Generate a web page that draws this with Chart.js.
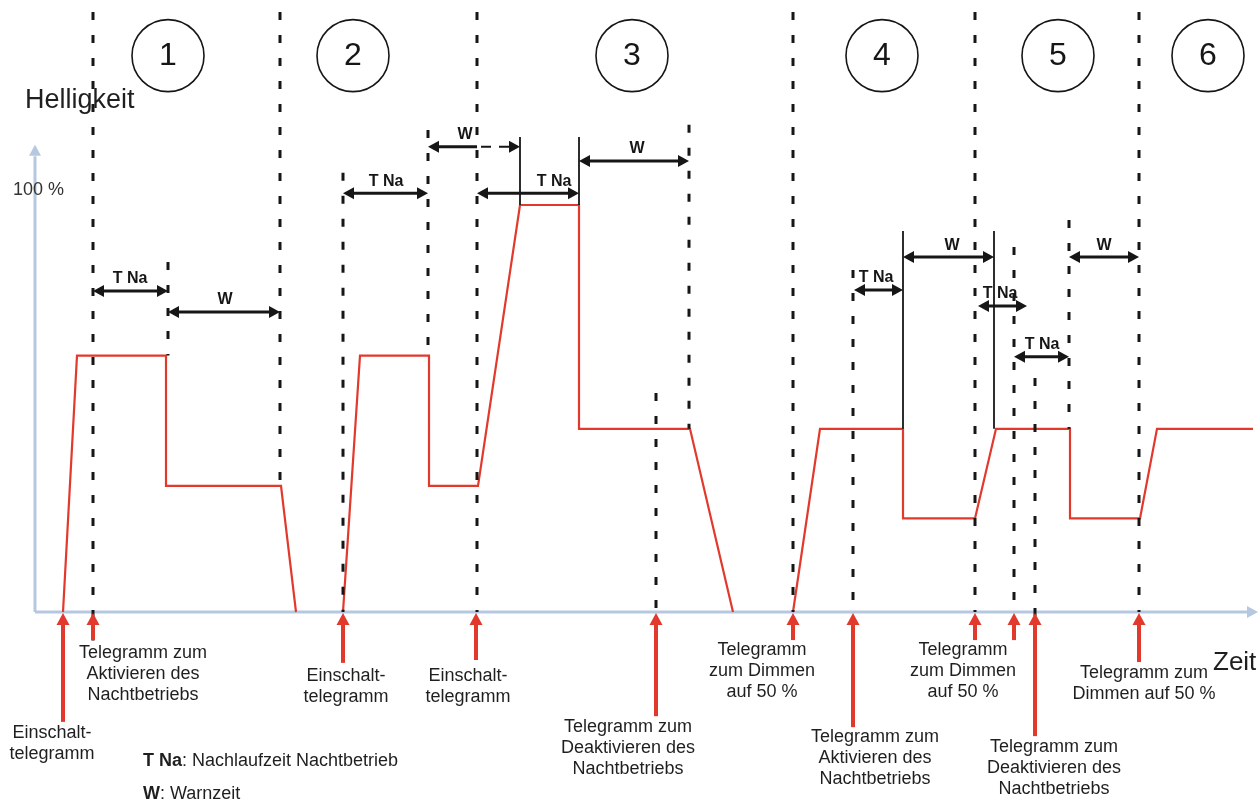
<!DOCTYPE html>
<html>
<head>
<meta charset="utf-8">
<title>Helligkeit / Nachtbetrieb</title>
<script src="https://cdn.jsdelivr.net/npm/chart.js@4"></script>
<style>
  html, body { margin: 0; padding: 0; background: #fff; }
  canvas { display: block; }
</style>
</head>
<body>
<canvas id="lightChart" width="1259" height="803"></canvas>
<script>
// Helligkeitsverlauf (Zeit, Helligkeit in %), null = Lücke
const curveTime  = [2.8, 4.2, 13.1, 13.1, 24.6, 26.1, 28.0, 30.8, 32.5, 39.4, 39.4, 44.3, 48.5, 54.4, 54.4, 65.5, 69.8, 72.0,
                    75.8, 78.5, 86.8, 86.8, 94.0, 96.1, 103.5, 103.5, 110.5, 112.2, 121.8];
const curveLevel = [0, 63, 63, 31, 31, 0, null, 0, 63, 63, 31, 31, 100, 100, 45, 45, 0, null,
                    0, 45, 45, 23, 23, 45, 45, 23, 23, 45, 45];

// gestrichelte Markierungen: Zeit, von, bis (%)
const markerTime = [5.8, 13.3, 24.5, 30.8, 39.3, 44.2, 62.1, 65.4, 75.8, 81.8, 94.0, 97.9, 100.0, 103.4, 110.4];
const markerFrom = [-7, 63, 31, 0, 63, 0, 0, 45, 0, 0, 0, 0, -7, 45, 0];
const markerTo   = [147.4, 86, 147.4, 107.9, 118.4, 147.4, 53.8, 119.7, 147.4, 84, 147.4, 89.7, 57.5, 96.3, 147.4];

// durchgezogene Markierungen
const stopTime = [48.5, 54.4, 86.8, 95.9];
const stopFrom = [100, 100, 45, 45];
const stopTo   = [116.7, 116.7, 93.6, 93.6];

// Zeitspannen (Doppelpfeile)
const spanName     = ["T Na", "W", "T Na", "W", "T Na", "W", "T Na", "W", "T Na", "T Na", "W"];
const spanStart    = [5.8, 13.3, 30.8, 39.3, 44.2, 54.4, 81.9, 86.8, 94.3, 97.9, 103.4];
const spanEnd      = [13.3, 24.5, 39.3, 48.5, 54.4, 65.4, 86.8, 95.9, 99.2, 103.4, 110.4];
const spanLevel    = [78.9, 73.7, 102.9, 114.3, 102.9, 110.8, 79.1, 87.2, 75.2, 62.7, 87.2];
const spanLabelAt  = [9.5, 19.0, 35.1, 43.0, 51.9, 60.2, 84.1, 91.7, 96.5, 100.7, 106.9];
const spanDashFrom = [null, null, null, 44.2, null, null, null, null, null, null, null];

// Telegramme (rote Pfeile)
const telegramTime = [2.8, 5.8, 30.8, 44.1, 62.1, 75.8, 81.8, 94.0, 97.9, 100.0, 110.4];
const telegramTail = [-27, -6.9, -12.5, -11.8, -25.6, -6.9, -28.3, -6.9, -6.9, -30.5, -12.3];
const telegramText = [
  ["Einschalt-", "telegramm"],
  ["Telegramm zum", "Aktivieren des", "Nachtbetriebs"],
  ["Einschalt-", "telegramm"],
  ["Einschalt-", "telegramm"],
  ["Telegramm zum", "Deaktivieren des", "Nachtbetriebs"],
  ["Telegramm", "zum Dimmen", "auf 50 %"],
  ["Telegramm zum", "Aktivieren des", "Nachtbetriebs"],
  ["Telegramm", "zum Dimmen", "auf 50 %"],
  null,
  ["Telegramm zum", "Deaktivieren des", "Nachtbetriebs"],
  ["Telegramm zum", "Dimmen auf 50 %"]
];
const telegramTextAt    = [1.7, 10.8, 31.1, 43.3, 59.3, 72.7, 84.0, 92.8, null, 101.9, 110.9];
const telegramTextLevel = [-29.7, -10.1, -15.7, -15.7, -28.3, -9.3, -30.7, -9.3, null, -33.2, -15.0];

// Phasen
const phaseName = ["1", "2", "3", "4", "5", "6"];
const phaseTime = [13.3, 31.8, 59.7, 84.7, 102.3, 117.3];

const FONT = "'Liberation Sans', Arial, sans-serif";
const RED = "#e2392d";
const INK = "#161616";
const AXIS = "#b5c8df";

function head(ctx, x, y, dx, dy, len, half) {
  const px = -dy, py = dx;
  ctx.beginPath();
  ctx.moveTo(x, y);
  ctx.lineTo(x - dx * len + px * half, y - dy * len + py * half);
  ctx.lineTo(x - dx * len - px * half, y - dy * len - py * half);
  ctx.closePath();
  ctx.fill();
}

const diagram = {
  id: "diagram",
  beforeDatasetsDraw(chart) {
    const ctx = chart.ctx;
    const X = v => chart.scales.x.getPixelForValue(v);
    const Y = v => chart.scales.y.getPixelForValue(v);
    ctx.save();
    // Achsen
    ctx.strokeStyle = AXIS;
    ctx.fillStyle = AXIS;
    ctx.lineWidth = 3;
    ctx.beginPath();
    ctx.moveTo(X(0), Y(0));
    ctx.lineTo(X(0), Y(112));
    ctx.moveTo(X(0), Y(0));
    ctx.lineTo(X(121.3), Y(0));
    ctx.stroke();
    head(ctx, X(0), Y(114.8), 0, -1, 11, 6);
    head(ctx, X(122.3), Y(0), 1, 0, 11, 6);
    ctx.restore();
  },
  afterDatasetsDraw(chart) {
    const ctx = chart.ctx;
    const X = v => chart.scales.x.getPixelForValue(v);
    const Y = v => chart.scales.y.getPixelForValue(v);
    ctx.save();

    // gestrichelte Linien
    ctx.strokeStyle = INK;
    ctx.lineWidth = 3;
    ctx.setLineDash([8, 15]);
    markerTime.forEach((t, i) => {
      ctx.beginPath();
      ctx.moveTo(X(t), Y(markerTo[i]));
      ctx.lineTo(X(t), Y(markerFrom[i]));
      ctx.stroke();
    });
    ctx.setLineDash([]);

    // durchgezogene Linien
    ctx.lineWidth = 1.8;
    stopTime.forEach((t, i) => {
      ctx.beginPath();
      ctx.moveTo(X(t), Y(stopTo[i]));
      ctx.lineTo(X(t), Y(stopFrom[i]));
      ctx.stroke();
    });

    // Doppelpfeile
    ctx.fillStyle = INK;
    ctx.lineWidth = 3;
    ctx.textAlign = "center";
    ctx.textBaseline = "middle";
    ctx.font = "bold 16px " + FONT;
    spanName.forEach((name, i) => {
      const x1 = X(spanStart[i]), x2 = X(spanEnd[i]), y = Y(spanLevel[i]);
      const cut = spanDashFrom[i] !== null ? X(spanDashFrom[i]) : x2 - 8;
      ctx.beginPath();
      ctx.moveTo(x1 + 8, y);
      ctx.lineTo(cut, y);
      ctx.stroke();
      if (spanDashFrom[i] !== null) {
        ctx.setLineDash([10, 8]);
        ctx.lineWidth = 2;
        ctx.beginPath();
        ctx.moveTo(cut + 4, y);
        ctx.lineTo(x2 - 8, y);
        ctx.stroke();
        ctx.setLineDash([]);
        ctx.lineWidth = 3;
      }
      head(ctx, x1, y, -1, 0, 11, 6);
      head(ctx, x2, y, 1, 0, 11, 6);
      ctx.fillText(name, X(spanLabelAt[i]), y - 12);
    });

    // Telegramme
    ctx.strokeStyle = RED;
    ctx.fillStyle = RED;
    ctx.lineWidth = 4;
    telegramTime.forEach((t, i) => {
      const x = X(t);
      ctx.beginPath();
      ctx.moveTo(x, Y(telegramTail[i]));
      ctx.lineTo(x, Y(0) + 10);
      ctx.stroke();
      head(ctx, x, Y(0) + 1, 0, -1, 12, 6.5);
    });
    ctx.fillStyle = "#1f1f1f";
    ctx.font = "18px " + FONT;
    telegramText.forEach((lines, i) => {
      if (!lines) return;
      const x = X(telegramTextAt[i]);
      const y0 = Y(telegramTextLevel[i]);
      lines.forEach((s, k) => ctx.fillText(s, x, y0 + k * 21));
    });

    // Phasen-Kreise
    ctx.strokeStyle = INK;
    ctx.fillStyle = INK;
    ctx.lineWidth = 1.6;
    ctx.font = "32px " + FONT;
    phaseName.forEach((n, i) => {
      const x = X(phaseTime[i]), y = Y(136.7);
      ctx.beginPath();
      ctx.arc(x, y, 36, 0, Math.PI * 2);
      ctx.stroke();
      ctx.fillText(n, x, y + 1);
    });

    // Achsentitel
    ctx.textAlign = "left";
    ctx.fillStyle = "#1f1f1f";
    ctx.font = "27px " + FONT;
    ctx.fillText("Helligkeit", X(-1.0), Y(125.6));
    ctx.font = "26px " + FONT;
    ctx.fillText("Zeit", X(117.8), Y(-12.5));
    ctx.fillStyle = "#333";
    ctx.font = "18px " + FONT;
    ctx.fillText("100 %", X(-2.2), Y(100) - 15);

    // Legende
    const legend = [["T Na", ": Nachlaufzeit Nachtbetrieb", -36.6], ["W", ": Warnzeit", -44.7]];
    legend.forEach(([k, rest, lv]) => {
      const x = X(10.8), y = Y(lv);
      ctx.font = "bold 18px " + FONT;
      ctx.fillStyle = "#1f1f1f";
      ctx.fillText(k, x, y);
      const w = ctx.measureText(k).width;
      ctx.font = "18px " + FONT;
      ctx.fillText(rest, x + w, y);
    });

    ctx.restore();
  }
};

new Chart(document.getElementById("lightChart"), {
  type: "line",
  data: {
    datasets: [{
      label: "Helligkeit",
      data: curveTime.map((t, i) => ({ x: t, y: curveLevel[i] })),
      borderColor: RED,
      borderWidth: 2.2,
      pointRadius: 0,
      tension: 0,
      spanGaps: false,
      fill: false
    }]
  },
  options: {
    responsive: false,
    animation: false,
    layout: { padding: 0 },
    plugins: { legend: { display: false }, tooltip: { enabled: false } },
    scales: {
      x: { type: "linear", min: -3.5, max: 122.4, display: false },
      y: { type: "linear", min: -46.93, max: 150.37, display: false }
    }
  },
  plugins: [diagram]
});
</script>
</body>
</html>
